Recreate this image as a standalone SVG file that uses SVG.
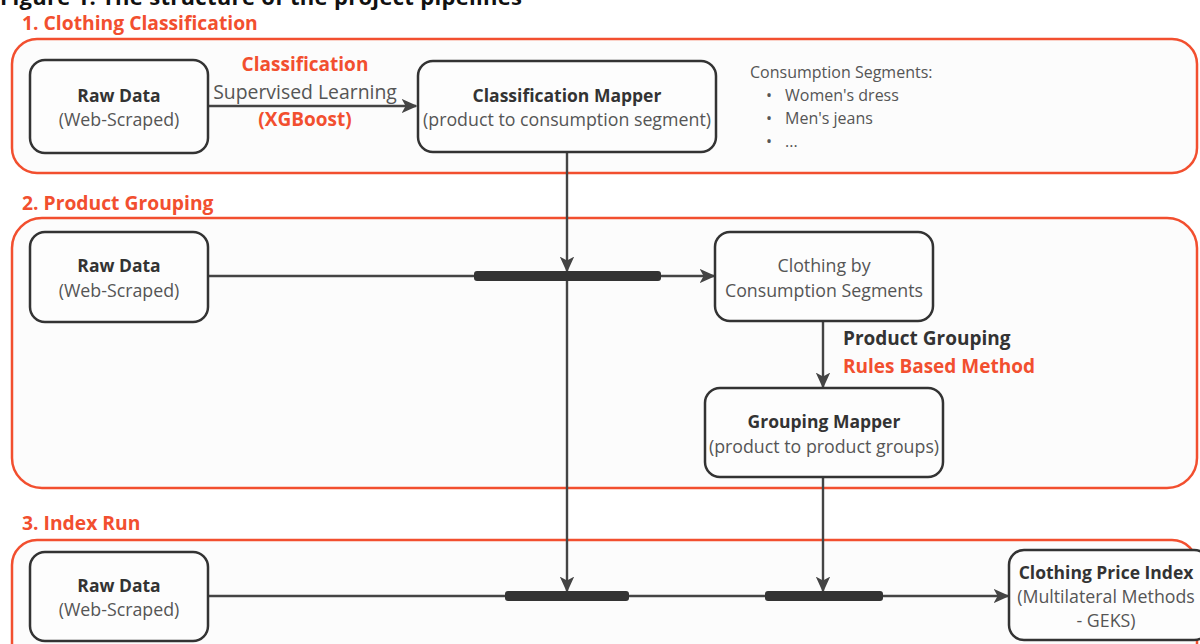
<svg xmlns="http://www.w3.org/2000/svg" width="1200" height="644" viewBox="0 0 1200 644">
<defs>
<style>
text{font-family:"Open Sans","Noto Sans","Liberation Sans",sans-serif}
.sec{fill:#fcfcfc;stroke:#f24f2f;stroke-width:2.5}
.node{fill:#fdfdfd;stroke:#333;stroke-width:2.5}
.lbl{fill:#f24f2f;font-weight:bold;font-size:19.3px}
.b{fill:#333;font-weight:bold;font-size:17.5px}
.r{fill:#555;font-size:17.8px}
.s{fill:#555;font-size:16px}
.red{fill:#f24f2f;font-weight:bold;font-size:19px}
.ln{stroke:#444;stroke-width:2.4;fill:none}
.bar{fill:#333}
</style>
<marker id="ahb" viewBox="0 0 10 10" refX="9" refY="5" markerWidth="16" markerHeight="16" markerUnits="userSpaceOnUse" orient="auto">
<path d="M0,0.5 L10,5 L0,9.5 L2.5,5 Z" fill="#444"/>
</marker>
</defs>
<rect width="1200" height="644" fill="#ffffff"/>
<text x="0" y="5" font-weight="bold" font-size="22" fill="#111" textLength="522">Figure 1: The structure of the project pipelines</text>

<g id="section1">
<text class="lbl" x="22" y="30">1. Clothing Classification</text>
<rect class="sec" x="12" y="39" width="1185" height="134" rx="25"/>
</g>
<g id="section2">
<text class="lbl" x="22" y="210">2. Product Grouping</text>
<rect class="sec" x="12" y="218" width="1185" height="270" rx="30"/>
</g>
<g id="section3">
<text class="lbl" x="22" y="530">3. Index Run</text>
<rect class="sec" x="12" y="540" width="1185" height="140" rx="25"/>
</g>

<g id="connectors">
<line class="ln" x1="209" y1="106" x2="416" y2="106" marker-end="url(#ahb)"/>
<text class="red" x="305" y="71" text-anchor="middle">Classification</text>
<text x="305" y="99" text-anchor="middle" style="fill:#555;font-size:19.4px">Supervised Learning</text>
<text class="red" x="305" y="126" text-anchor="middle">(XGBoost)</text>

<line class="ln" x1="567" y1="153" x2="567" y2="271" marker-end="url(#ahb)"/>
<line class="ln" x1="567" y1="276" x2="567" y2="591" marker-end="url(#ahb)"/>

<line class="ln" x1="209" y1="276" x2="474" y2="276"/>
<rect class="bar" x="474" y="271" width="187" height="10" rx="3"/>
<line class="ln" x1="661" y1="276" x2="714" y2="276" marker-end="url(#ahb)"/>

<line class="ln" x1="823" y1="322" x2="823" y2="387" marker-end="url(#ahb)"/>
<text x="843" y="345" font-weight="bold" font-size="19" fill="#333">Product Grouping</text>
<text class="red" x="843" y="373">Rules Based Method</text>

<line class="ln" x1="823" y1="478" x2="823" y2="591" marker-end="url(#ahb)"/>

<line class="ln" x1="209" y1="596" x2="505" y2="596"/>
<rect class="bar" x="505" y="591" width="124" height="10" rx="3"/>
<line class="ln" x1="629" y1="596" x2="765" y2="596"/>
<rect class="bar" x="765" y="591" width="118" height="10" rx="3"/>
<line class="ln" x1="883" y1="596" x2="1008" y2="596" marker-end="url(#ahb)"/>
</g>

<g id="raw1">
<rect class="node" x="30" y="60" width="178" height="93" rx="15"/>
<text class="b" x="119" y="102" text-anchor="middle">Raw Data</text>
<text class="r" x="119" y="126" text-anchor="middle">(Web-Scraped)</text>
</g>
<g id="classMapper">
<rect class="node" x="418" y="61" width="298" height="91" rx="15"/>
<text class="b" x="567" y="102" text-anchor="middle">Classification Mapper</text>
<text class="r" x="567" y="126" text-anchor="middle">(product to consumption segment)</text>
</g>
<g id="segments">
<text class="s" x="750" y="78">Consumption Segments:</text>
<text class="s" x="766" y="101">•</text>
<text class="s" x="785" y="101">Women's dress</text>
<text class="s" x="766" y="124">•</text>
<text class="s" x="785" y="124">Men's jeans</text>
<text class="s" x="766" y="147">•</text>
<text class="s" x="785" y="147">...</text>
</g>
<g id="raw2">
<rect class="node" x="30" y="232" width="178" height="90" rx="15"/>
<text class="b" x="119" y="272" text-anchor="middle">Raw Data</text>
<text class="r" x="119" y="297" text-anchor="middle">(Web-Scraped)</text>
</g>
<g id="clothingSegments">
<rect class="node" x="715" y="232" width="218" height="89" rx="15"/>
<text class="r" x="824" y="272" text-anchor="middle">Clothing by</text>
<text class="r" x="824" y="297" text-anchor="middle">Consumption Segments</text>
</g>
<g id="groupingMapper">
<rect class="node" x="705" y="388" width="238" height="89" rx="15"/>
<text class="b" x="824" y="428" text-anchor="middle">Grouping Mapper</text>
<text class="r" x="824" y="453" text-anchor="middle">(product to product groups)</text>
</g>
<g id="raw3">
<rect class="node" x="30" y="552" width="178" height="89" rx="15"/>
<text class="b" x="119" y="592" text-anchor="middle">Raw Data</text>
<text class="r" x="119" y="616" text-anchor="middle">(Web-Scraped)</text>
</g>
<g id="priceIndex">
<rect class="node" x="1009" y="550" width="200" height="90" rx="15"/>
<text class="b" x="1106" y="579" text-anchor="middle">Clothing Price Index</text>
<text class="r" x="1106" y="603" text-anchor="middle">(Multilateral Methods</text>
<text class="r" x="1106" y="627" text-anchor="middle">- GEKS)</text>
</g>
</svg>
